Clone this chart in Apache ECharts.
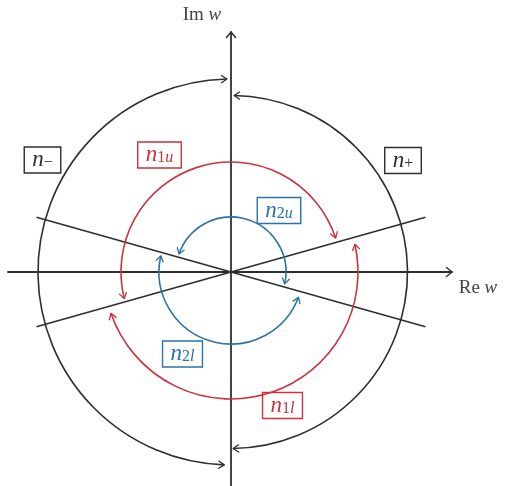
<!DOCTYPE html>
<html>
<head>
<meta charset="utf-8">
<script src="https://cdn.jsdelivr.net/npm/echarts@6/dist/echarts.min.js"></script>
<style>
  html, body { margin: 0; padding: 0; background: #fff; }
  #chart { width: 505px; height: 486px; }
</style>
</head>
<body>
<div id="chart"></div>
<script>
// Extent of the w-plane axes
const reMin = -223, reMax = 221;
const imMin = -214, imMax = 240;

// Contour arcs: [radius, start angle, end angle], degrees counter-clockwise from +Re
const outerArcs = [[193, 91.2, 268], [176.5, -89.3, 89]];
const redArcs = [[110, 18, 194], [127, 199, 372.6]];
const blueArcs = [[55, -12.5, 161], [72, 167, 339.5]];

// Straight lines through the origin: [angle in degrees, half length]
const rays = [[15.7, 202], [-15.7, 202]];

// Boxed region labels: [subscript, Re, Im]
const blackLabels = [['−', -188.5, 112], ['+', 172, 111.5]];
const redLabels = [['1u', -71.5, 117], ['1l', 51.5, -133.5]];
const blueLabels = [['2u', 48, 61.5], ['2l', -48.5, -82]];

// Axis titles: [upright part, italic part, Re, Im]
const axisTitles = [['Im ', 'w', -29, 257], ['Re ', 'w', 247, -16]];

const INK = '#2e2e2e';
const RED = '#c8333d';
const BLUE = '#2a72a8';
const SERIF = '"Liberation Serif", "DejaVu Serif", serif';

function chevron(tip, dx, dy, len, half, color, width) {
  const bx = tip[0] - dx * len, by = tip[1] - dy * len;
  const nx = -dy, ny = dx;
  return {
    type: 'polyline',
    shape: { points: [[bx + nx * half, by + ny * half], tip, [bx - nx * half, by - ny * half]] },
    style: { stroke: color, fill: 'none', lineWidth: width, lineJoin: 'round', lineCap: 'round' }
  };
}

function arcSeries(data, color) {
  return {
    type: 'custom',
    coordinateSystem: 'cartesian2d',
    clip: false,
    silent: true,
    data: data,
    renderItem: function (params, api) {
      const r = api.value(0), a0 = api.value(1) * Math.PI / 180, a1 = api.value(2) * Math.PI / 180;
      const c = api.coord([0, 0]);
      const rp = api.size([r, 0])[0];
      const tip = t => [c[0] + rp * Math.cos(t), c[1] - rp * Math.sin(t)];
      // at the start the arrow runs clockwise, at the end counter-clockwise
      return {
        type: 'group',
        children: [
          {
            type: 'arc',
            shape: { cx: c[0], cy: c[1], r: rp, startAngle: -a0, endAngle: -a1, clockwise: false },
            style: { stroke: color, fill: 'none', lineWidth: 1.6 }
          },
          chevron(tip(a0), Math.sin(a0), Math.cos(a0), 5.5, 3.6, color, 1.3),
          chevron(tip(a1), -Math.sin(a1), -Math.cos(a1), 5.5, 3.6, color, 1.3)
        ]
      };
    }
  };
}

function labelSeries(labels, color) {
  return {
    type: 'custom',
    coordinateSystem: 'cartesian2d',
    clip: false,
    silent: true,
    data: labels.map(l => [l[1], l[2]]),
    renderItem: function (params, api) {
      const sub = labels[params.dataIndex][0];
      const p = api.coord([api.value(0), api.value(1)]);
      let text = '{n|n}';
      if (sub.length === 2) text += '{d|' + sub[0] + '}{i|' + sub[1] + '}';
      else text += '{d|' + sub + '}';
      return {
        type: 'text',
        x: p[0], y: p[1],
        style: {
          text: text,
          align: 'center',
          verticalAlign: 'middle',
          fill: color,
          padding: [2, 8, 2, 8],
          borderColor: color,
          borderWidth: 1.4,
          rich: {
            n: { fontFamily: SERIF, fontStyle: 'italic', fontSize: 23, lineHeight: 22, fill: color },
            d: { fontFamily: SERIF, fontSize: 16, lineHeight: 13, verticalAlign: 'bottom', fill: color },
            i: { fontFamily: SERIF, fontStyle: 'italic', fontSize: 16, lineHeight: 13, verticalAlign: 'bottom', fill: color }
          }
        }
      };
    }
  };
}

const chart = echarts.init(document.getElementById('chart'), null, { renderer: 'canvas' });

const hiddenAxisParts = {
  axisTick: { show: false },
  axisLabel: { show: false },
  splitLine: { show: false }
};

chart.setOption({
  backgroundColor: '#ffffff',
  animation: false,
  grid: { left: 8, right: 53, top: 32, bottom: 0 },
  xAxis: Object.assign({
    type: 'value', min: reMin, max: reMax,
    axisLine: { onZero: true, lineStyle: { color: INK, width: 1.8 } }
  }, hiddenAxisParts),
  yAxis: Object.assign({
    type: 'value', min: imMin, max: imMax,
    axisLine: { onZero: true, lineStyle: { color: INK, width: 1.8 } }
  }, hiddenAxisParts),
  series: [
    // axis arrow tips
    {
      type: 'custom',
      coordinateSystem: 'cartesian2d',
      clip: false,
      silent: true,
      data: [[reMax, 0, 0], [0, imMax, 90]],
      renderItem: function (params, api) {
        const p = api.coord([api.value(0), api.value(1)]);
        const t = api.value(2) * Math.PI / 180;
        return chevron(p, Math.cos(t), -Math.sin(t), 5.5, 4.5, INK, 1.5);
      }
    },
    // straight lines through the origin
    {
      type: 'custom',
      coordinateSystem: 'cartesian2d',
      clip: false,
      silent: true,
      data: rays,
      renderItem: function (params, api) {
        const t = api.value(0) * Math.PI / 180, h = api.value(1);
        const a = api.coord([h * Math.cos(t), h * Math.sin(t)]);
        const b = api.coord([-h * Math.cos(t), -h * Math.sin(t)]);
        return {
          type: 'line',
          shape: { x1: a[0], y1: a[1], x2: b[0], y2: b[1] },
          style: { stroke: INK, lineWidth: 1.6 }
        };
      }
    },
    arcSeries(outerArcs, INK),
    arcSeries(redArcs, RED),
    arcSeries(blueArcs, BLUE),
    labelSeries(blackLabels, INK),
    labelSeries(redLabels, RED),
    labelSeries(blueLabels, BLUE),
    // axis titles
    {
      type: 'custom',
      coordinateSystem: 'cartesian2d',
      clip: false,
      silent: true,
      data: axisTitles.map(a => [a[2], a[3]]),
      renderItem: function (params, api) {
        const a = axisTitles[params.dataIndex];
        const p = api.coord([api.value(0), api.value(1)]);
        return {
          type: 'text',
          x: p[0], y: p[1],
          style: {
            text: '{u|' + a[0] + '}{w|' + a[1] + '}',
            align: 'center',
            verticalAlign: 'middle',
            fill: '#444',
            rich: {
              u: { fontFamily: SERIF, fontSize: 19, fill: '#444' },
              w: { fontFamily: SERIF, fontStyle: 'italic', fontSize: 19, fill: '#444' }
            }
          }
        };
      }
    }
  ]
});
</script>
</body>
</html>
